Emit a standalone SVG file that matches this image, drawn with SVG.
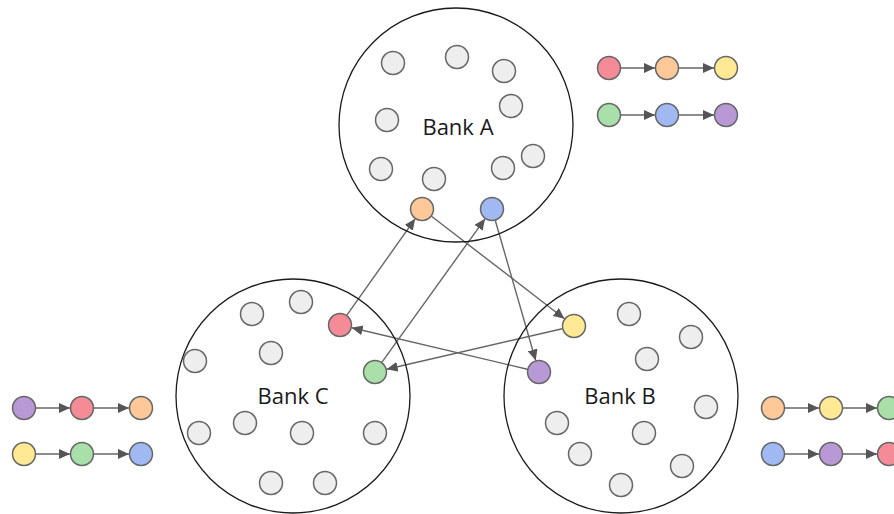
<svg xmlns="http://www.w3.org/2000/svg" width="894" height="514" viewBox="0 0 894 514">
  <style>
    .bank { fill: none; stroke: #1a1a1a; stroke-width: 1.3; }
    .label { font-family: "Open Sans", "Liberation Sans", sans-serif; font-size: 22px; fill: #1a1a1a; text-anchor: middle; }
    .acct { stroke: #666666; stroke-width: 1.5; }
    .idle { fill: #eeeeee; }
    .red { fill: #f48b97; }
    .orange { fill: #ffc898; }
    .yellow { fill: #ffe995; }
    .green { fill: #a9dfa9; }
    .blue { fill: #a1b9f3; }
    .purple { fill: #b899d6; }
    .link { stroke: #666666; stroke-width: 1.4; fill: none; marker-end: url(#head); }
  </style>
  <defs>
    <marker id="head" markerUnits="userSpaceOnUse" markerWidth="12" markerHeight="10" refX="11" refY="5" orient="auto">
      <path d="M0,0 L11,5 L0,10 Z" fill="#555555"/>
    </marker>
  </defs>

  <!-- transfers between banks and within the legend chains -->
  <g id="connectors">
    <line class="link" x1="346.9" y1="315.2" x2="415.1" y2="218.8"/>
    <line class="link" x1="382.0" y1="362.2" x2="485.0" y2="218.8"/>
    <line class="link" x1="431.5" y1="216.3" x2="564.5" y2="318.7"/>
    <line class="link" x1="495.3" y1="220.5" x2="535.7" y2="360.5"/>
    <line class="link" x1="562.3" y1="328.7" x2="386.7" y2="369.3"/>
    <line class="link" x1="527.3" y1="369.2" x2="351.7" y2="327.8"/>

    <line class="link" x1="621" y1="68" x2="655" y2="68"/>
    <line class="link" x1="679" y1="68" x2="714" y2="68"/>
    <line class="link" x1="621" y1="115" x2="655" y2="115"/>
    <line class="link" x1="679" y1="115" x2="714" y2="115"/>

    <line class="link" x1="36" y1="408" x2="70" y2="408"/>
    <line class="link" x1="94" y1="408" x2="129" y2="408"/>
    <line class="link" x1="36" y1="454" x2="70" y2="454"/>
    <line class="link" x1="94" y1="454" x2="129" y2="454"/>

    <line class="link" x1="785" y1="408" x2="819" y2="408"/>
    <line class="link" x1="843" y1="408" x2="877" y2="408"/>
    <line class="link" x1="785" y1="454" x2="819" y2="454"/>
    <line class="link" x1="843" y1="454" x2="877" y2="454"/>
  </g>

  <g id="bank-a">
    <circle class="bank" cx="456" cy="125" r="117"/>
    <text class="label" x="458" y="135">Bank A</text>
    <circle class="acct idle" cx="393" cy="63" r="11.5"/>
    <circle class="acct idle" cx="457" cy="57" r="11.5"/>
    <circle class="acct idle" cx="504" cy="71" r="11.5"/>
    <circle class="acct idle" cx="511" cy="106" r="11.5"/>
    <circle class="acct idle" cx="387" cy="120" r="11.5"/>
    <circle class="acct idle" cx="381" cy="169" r="11.5"/>
    <circle class="acct idle" cx="434" cy="179" r="11.5"/>
    <circle class="acct idle" cx="503" cy="168" r="11.5"/>
    <circle class="acct idle" cx="533" cy="156" r="11.5"/>
    <circle class="acct orange" cx="422" cy="209" r="11.5"/>
    <circle class="acct blue" cx="492" cy="209" r="11.5"/>
  </g>

  <g id="bank-c">
    <circle class="bank" cx="293" cy="396" r="117"/>
    <text class="label" x="293" y="404">Bank C</text>
    <circle class="acct idle" cx="252" cy="314" r="11.5"/>
    <circle class="acct idle" cx="301" cy="302" r="11.5"/>
    <circle class="acct idle" cx="271" cy="353" r="11.5"/>
    <circle class="acct idle" cx="195" cy="361" r="11.5"/>
    <circle class="acct idle" cx="199" cy="433" r="11.5"/>
    <circle class="acct idle" cx="245" cy="423" r="11.5"/>
    <circle class="acct idle" cx="302" cy="433" r="11.5"/>
    <circle class="acct idle" cx="375" cy="433" r="11.5"/>
    <circle class="acct idle" cx="271" cy="483" r="11.5"/>
    <circle class="acct idle" cx="325" cy="483" r="11.5"/>
    <circle class="acct red" cx="340" cy="325" r="11.5"/>
    <circle class="acct green" cx="375" cy="372" r="11.5"/>
  </g>

  <g id="bank-b">
    <circle class="bank" cx="621" cy="396" r="117"/>
    <text class="label" x="620" y="404">Bank B</text>
    <circle class="acct idle" cx="629" cy="314" r="11.5"/>
    <circle class="acct idle" cx="691" cy="337" r="11.5"/>
    <circle class="acct idle" cx="647" cy="359" r="11.5"/>
    <circle class="acct idle" cx="706" cy="407" r="11.5"/>
    <circle class="acct idle" cx="557" cy="423" r="11.5"/>
    <circle class="acct idle" cx="644" cy="433" r="11.5"/>
    <circle class="acct idle" cx="580" cy="454" r="11.5"/>
    <circle class="acct idle" cx="682" cy="466" r="11.5"/>
    <circle class="acct idle" cx="621" cy="485" r="11.5"/>
    <circle class="acct yellow" cx="574" cy="326" r="11.5"/>
    <circle class="acct purple" cx="539" cy="372" r="11.5"/>
  </g>

  <g id="chain-a">
    <circle class="acct red" cx="609" cy="68" r="11.5"/>
    <circle class="acct orange" cx="667" cy="68" r="11.5"/>
    <circle class="acct yellow" cx="726" cy="68" r="11.5"/>
    <circle class="acct green" cx="609" cy="115" r="11.5"/>
    <circle class="acct blue" cx="667" cy="115" r="11.5"/>
    <circle class="acct purple" cx="726" cy="115" r="11.5"/>
  </g>

  <g id="chain-c">
    <circle class="acct purple" cx="24" cy="408" r="11.5"/>
    <circle class="acct red" cx="82" cy="408" r="11.5"/>
    <circle class="acct orange" cx="141" cy="408" r="11.5"/>
    <circle class="acct yellow" cx="24" cy="454" r="11.5"/>
    <circle class="acct green" cx="82" cy="454" r="11.5"/>
    <circle class="acct blue" cx="141" cy="454" r="11.5"/>
  </g>

  <g id="chain-b">
    <circle class="acct orange" cx="773" cy="408" r="11.5"/>
    <circle class="acct yellow" cx="831" cy="408" r="11.5"/>
    <circle class="acct green" cx="889" cy="408" r="11.5"/>
    <circle class="acct blue" cx="773" cy="454" r="11.5"/>
    <circle class="acct purple" cx="831" cy="454" r="11.5"/>
    <circle class="acct red" cx="889" cy="454" r="11.5"/>
  </g>
</svg>
